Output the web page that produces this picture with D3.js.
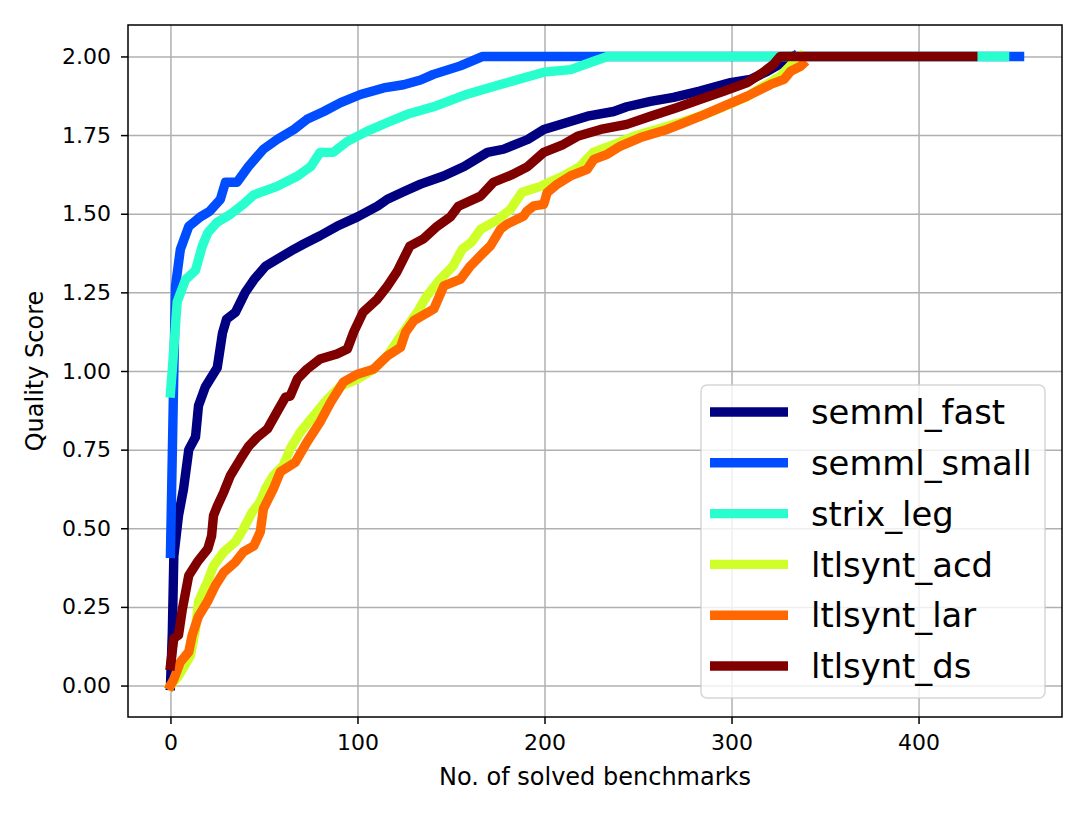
<html>
    <head>
        <style>
            body{ margin: 0; background: #fff; }
            text{ font-family: "DejaVu Sans", sans-serif; }
            .line{ fill: none; stroke-linejoin: round; stroke-linecap: square; }
            .grid line{ stroke: #b0b0b0; stroke-width: 1.5; }
            .grid path{ display: none; }
        </style>
        <script src="https://d3js.org/d3.v7.min.js" charset="utf-8"></script>
    </head>
    <body>
        <div id="viz"></div>
        <script>
            // series: [solved benchmark index, quality score]
            const semmlFast = [[0,0],[1,0.17],[1.8,0.41],[4.3,0.54],[7,0.625],[9.8,0.75],[13.4,0.79],[15,0.89],[18.7,0.95],[25,1.01],[27.8,1.12],[30,1.165],[34.8,1.187],[40,1.25],[44.6,1.29],[50.8,1.333],[57,1.355],[66,1.387],[71,1.403],[80,1.43],[89,1.46],[100,1.49],[110.7,1.524],[116,1.546],[124.6,1.57],[133.7,1.594],[146,1.62],[157,1.65],[169.5,1.695],[178,1.705],[191,1.736],[199.6,1.768],[212,1.79],[223,1.81],[237,1.825],[244,1.84],[256.7,1.857],[269,1.87],[283,1.89],[299.5,1.917],[310,1.927],[319,1.952],[330,1.99],[333,2.0]];
            const semmlSmall = [[0,0.42],[1.5,0.9],[2.7,1.27],[5.3,1.387],[9.8,1.46],[16,1.49],[21,1.508],[26.7,1.546],[29.4,1.6],[35.6,1.6],[41.7,1.65],[49.7,1.705],[57,1.736],[66,1.768],[73,1.8],[82,1.825],[91,1.853],[101.6,1.879],[114,1.9],[124.6,1.91],[133.7,1.925],[140.6,1.943],[155,1.97],[167,2.0],[454,2.0]];
            const strixLeg = [[0,0.93],[1,1.006],[3.6,1.22],[8,1.29],[13.4,1.32],[17,1.397],[20,1.44],[25,1.473],[32,1.498],[39,1.53],[44.6,1.56],[57,1.587],[68,1.62],[75,1.65],[80,1.695],[87,1.695],[94.6,1.73],[105,1.762],[116,1.79],[126.6,1.816],[140.6,1.84],[158.6,1.88],[176,1.91],[199.6,1.95],[214,1.958],[226,1.984],[233.7,2.0],[446,2.0]];
            const ltlsyntAcd = [[0,0],[4.3,0.03],[10.7,0.095],[13.4,0.18],[15,0.267],[19.8,0.33],[23,0.38],[28.5,0.425],[34.8,0.457],[39,0.498],[43.8,0.552],[48,0.584],[50.8,0.625],[55,0.667],[60.4,0.7],[64,0.752],[69.5,0.806],[76.5,0.857],[84,0.911],[91,0.952],[100,0.975],[108.6,1.006],[116,1.048],[124.6,1.124],[132,1.187],[137,1.238],[144,1.29],[151,1.333],[156,1.387],[161,1.41],[165.8,1.45],[174.7,1.48],[181.8,1.514],[188,1.568],[197.9,1.587],[210,1.62],[219,1.65],[226,1.695],[237,1.72],[247.8,1.746],[260,1.768],[272.7,1.79],[283,1.81],[295.7,1.84],[308.5,1.873],[317,1.905],[326,1.937],[333,1.98],[337,2.0]];
            const ltlsyntLar = [[0,0],[1.8,0.02],[5.3,0.075],[9.8,0.107],[11.6,0.16],[15,0.22],[19.8,0.267],[24,0.318],[28.5,0.36],[34.8,0.393],[39,0.425],[44.6,0.444],[48,0.488],[49.7,0.562],[55,0.625],[58.8,0.68],[66.8,0.71],[73,0.774],[80,0.838],[85.6,0.9],[92.5,0.965],[100,0.99],[108.6,1.006],[116,1.048],[123,1.075],[125.7,1.123],[130.1,1.16],[140.8,1.197],[146.2,1.271],[155.1,1.292],[160.4,1.334],[167.5,1.377],[171.1,1.398],[176.5,1.451],[180,1.467],[188.9,1.493],[190.7,1.509],[194.3,1.525],[199.6,1.53],[201.4,1.567],[206.8,1.594],[213.9,1.62],[222.8,1.641],[226.4,1.673],[233.5,1.689],[240.6,1.715],[251.3,1.742],[265.6,1.768],[274.5,1.789],[283.4,1.81],[295.9,1.842],[308.4,1.874],[315.5,1.895],[320.9,1.911],[328,1.927],[331.6,1.953],[336.9,1.969],[338,1.975]];
            const ltlsyntDs = [[0,0.063],[1.8,0.15],[4.3,0.16],[6.4,0.244],[9.8,0.35],[14.4,0.393],[20,0.435],[22,0.476],[23,0.54],[25,0.57],[28.5,0.615],[32,0.667],[37.4,0.72],[41.7,0.76],[46.5,0.79],[51.9,0.816],[57,0.87],[61.5,0.917],[64,0.92],[67.9,0.975],[73,1.006],[80,1.038],[89,1.054],[94.6,1.07],[98,1.124],[103,1.187],[110.7,1.229],[116,1.27],[121,1.314],[128,1.397],[135,1.419],[142.6,1.46],[149.7,1.49],[154,1.524],[165.8,1.556],[172.7,1.6],[183,1.625],[191,1.65],[199.6,1.695],[210,1.72],[217.6,1.746],[230,1.768],[244,1.784],[256.7,1.81],[271,1.838],[283,1.863],[295.7,1.889],[308.5,1.917],[317,1.95],[322.5,1.975],[326,2.0],[429,2.0]];

            const seriesNames = ["semml_fast", "semml_small", "strix_leg", "ltlsynt_acd", "ltlsynt_lar", "ltlsynt_ds"];
            const seriesData  = [semmlFast, semmlSmall, strixLeg, ltlsyntAcd, ltlsyntLar, ltlsyntDs];
            const colors      = ["#000080", "#004cff", "#29ffce", "#ceff29", "#ff6800", "#800000"];
            const xTicks = [0, 100, 200, 300, 400];
            const yTicks = [0, 0.25, 0.5, 0.75, 1, 1.25, 1.5, 1.75, 2];

            let margin = { top: 25, right: 26, bottom: 100, left: 128 },
                width = 1088, height = 817;
            let w = width - margin.left - margin.right,
                h = height - margin.top - margin.bottom;

            let svg = d3.select("#viz").append('svg').attr('width', width).attr('height', height)
                        .append('g').attr('transform', `translate(${margin.left}, ${margin.top})`);

            let x = d3.scaleLinear().domain([-22.7, 476.7]).range([0, w]);
            let y = d3.scaleLinear().domain([-0.1, 2.1]).range([h, 0]);

            // grid
            svg.append('g').attr('class', 'grid')
                .attr('transform', `translate(0, ${h})`)
                .call(d3.axisBottom(x).tickValues(xTicks).tickSize(-h).tickFormat(''));
            svg.append('g').attr('class', 'grid')
                .call(d3.axisLeft(y).tickValues(yTicks).tickSize(-w).tickFormat(''));

            // curves
            let line = d3.line().x(d => x(d[0])).y(d => y(d[1]));
            seriesData.forEach((s, i) => {
                svg.append('path')
                    .datum(s)
                    .attr('class', 'line')
                    .attr('d', line)
                    .style('stroke', colors[i])
                    .style('stroke-width', 9.4);
            });

            // axes
            let xAxis = svg.append('g')
                .attr('transform', `translate(0, ${h})`)
                .call(d3.axisBottom(x).tickValues(xTicks).tickSize(7).tickPadding(10));
            let yAxis = svg.append('g')
                .call(d3.axisLeft(y).tickValues(yTicks).tickFormat(d3.format('.2f')).tickSize(7).tickPadding(10));
            [xAxis, yAxis].forEach(a => {
                a.select('.domain').remove();
                a.selectAll('.tick line').attr('stroke', '#000').attr('stroke-width', 1.5);
                a.selectAll('text').style('font-family', '"DejaVu Sans", sans-serif')
                    .style('font-size', '22px').attr('fill', '#000');
            });

            // frame
            svg.append('rect')
                .attr('width', w).attr('height', h)
                .style('fill', 'none').style('stroke', '#000').style('stroke-width', 1.5);

            // axis labels
            svg.append('text')
                .attr('x', w / 2).attr('y', h + 68)
                .attr('text-anchor', 'middle')
                .style('font-size', '24px')
                .text('No. of solved benchmarks');
            svg.append('text')
                .attr('transform', `translate(${-85}, ${h / 2}) rotate(-90)`)
                .attr('text-anchor', 'middle')
                .style('font-size', '24px')
                .text('Quality Score');

            // legend
            let lg = svg.append('g').attr('transform', `translate(${701 - margin.left}, ${385 - margin.top})`);
            lg.append('rect')
                .attr('width', 344).attr('height', 313).attr('rx', 6)
                .style('fill', '#fff').style('fill-opacity', 0.8)
                .style('stroke', '#cccccc').style('stroke-opacity', 0.8).style('stroke-width', 1.5);
            seriesNames.forEach((name, i) => {
                let cy = 27 + i * 50.8;
                lg.append('line')
                    .attr('x1', 9).attr('x2', 87).attr('y1', cy).attr('y2', cy)
                    .style('stroke', colors[i]).style('stroke-width', 9.4);
                lg.append('text')
                    .attr('x', 110).attr('y', cy)
                    .attr('dy', '0.36em')
                    .style('font-size', '33.8px')
                    .text(name);
            });
        </script>
    </body>
</html>
